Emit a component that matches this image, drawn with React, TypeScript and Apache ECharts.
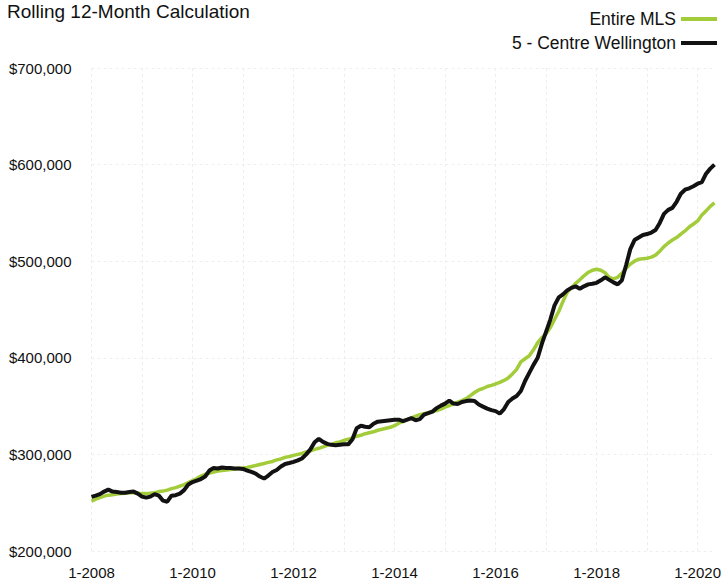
import React, { useEffect, useRef } from "react";
import * as echarts from "echarts";

// Monthly categories from 1-2008 to 5-2020
const startYear = 2008;
const monthCount = 149;
const categories: string[] = [];
for (let i = 0; i < monthCount; i++) {
  const y = startYear + Math.floor(i / 12);
  const m = (i % 12) + 1;
  categories.push(`${m}-${y}`);
}

// Values in thousands of dollars
const entireMLS = [
  251.6, 253.6, 255.2, 256.8, 257.8, 258.3, 258.9, 259.4, 259.9, 260.4,
  260.4, 259.9, 259.4, 259.4, 259.9, 260.4, 261.5, 262, 263, 264.6,
  265.6, 267.2, 268.8, 270.8, 272.9, 275, 277.6, 279.2, 280.7, 281.8,
  282.8, 283.3, 283.9, 284.4, 284.9, 285.4, 285.9, 286.5, 287.5, 288.5,
  289.6, 290.6, 291.7, 292.7, 294.3, 295.3, 296.9, 297.9, 299, 300,
  301, 302.6, 303.6, 305.2, 306.3, 307.8, 309.4, 310.4, 312, 313,
  314.6, 315.6, 317.2, 318.8, 319.8, 321.4, 322.4, 323.4, 325, 326,
  327.1, 328.1, 329.7, 332.3, 333.9, 335.9, 337.5, 339.6, 341.1, 342.2,
  343.2, 344.3, 345.3, 346.9, 349, 350.5, 352.6, 354.2, 355.7, 357.8,
  360.9, 364.1, 366.7, 368.2, 370.3, 371.4, 372.9, 374.5, 376.6, 379.2,
  383.3, 388, 395.8, 399, 402.1, 408.3, 415.6, 420.8, 425, 431.3,
  439.6, 447.9, 458.3, 467.7, 472.4, 477.1, 480.7, 484.9, 488.5, 490.6,
  491.7, 490.6, 488, 483.3, 481.8, 483.3, 487.5, 492.7, 496.9, 500,
  502.1, 502.6, 503.1, 504.2, 506.3, 510.4, 515.1, 518.8, 521.9, 524.5,
  528.1, 531.3, 535.4, 538.5, 541.7, 547.9, 552.1, 556.8, 560.4,
];

const centreWellington = [
  256, 257.3, 258.9, 261.5, 263.5, 261.5, 261, 260.4, 260.4, 261,
  261.5, 259.4, 256.3, 255.2, 256.3, 258.9, 257.3, 252.1, 251, 257.3,
  257.8, 259.4, 263, 268.8, 271.4, 272.9, 274.5, 277.1, 283.3, 285.9,
  285.4, 286.5, 285.9, 285.9, 285.4, 285.4, 284.9, 283.3, 281.8, 280.2,
  277.1, 275, 278.1, 281.8, 283.9, 287.5, 290.1, 291.1, 292.2, 293.8,
  295.8, 300, 305.2, 312.5, 316.1, 313, 310.9, 309.9, 309.4, 309.9,
  310.4, 310.4, 315.6, 327.1, 329.7, 328.6, 328.1, 331.8, 333.9, 334.4,
  334.9, 335.4, 335.9, 335.9, 334.4, 335.9, 337.5, 335.4, 336.5, 341.1,
  342.7, 344.3, 347.9, 350.5, 352.6, 355.7, 352.6, 352.1, 354.2, 355.2,
  355.7, 355.2, 351.6, 349.5, 347.4, 345.8, 344.8, 342.2, 346.9, 354.2,
  357.8, 360.4, 365.6, 376, 384.4, 392.7, 400, 414.6, 427.1, 439.6,
  454.2, 462.5, 465.6, 469.8, 472.4, 474, 471.4, 474, 476, 476.6,
  477.6, 480.2, 483.3, 480.7, 478.1, 476, 480.2, 495.8, 512.5, 521.9,
  524.5, 527.1, 528.1, 529.7, 532.3, 539.6, 549, 553.1, 555.2, 561.5,
  569.8, 574, 575.5, 577.6, 580.2, 581.8, 590.6, 595.8, 600,
];

const seriesNames = ["Entire MLS", "5 - Centre Wellington"];
const titleText = "Rolling 12-Month Calculation";

const FONT = "'Liberation Sans', Arial, Helvetica, sans-serif";

export default function App() {
  const ref = useRef<HTMLDivElement>(null);

  useEffect(() => {
    if (!ref.current) return;
    const chart = echarts.init(ref.current, undefined, { renderer: "svg" });
    chart.setOption({
      animation: false,
      backgroundColor: "#ffffff",
      title: {
        text: titleText,
        left: 7,
        top: 2,
        padding: 0,
        textStyle: {
          fontFamily: FONT,
          fontSize: 19,
          fontWeight: "normal",
          color: "#111111",
        },
      },
      legend: {
        data: seriesNames,
        orient: "vertical",
        right: 7,
        top: 10,
        align: "right",
        icon: "rect",
        itemWidth: 36,
        itemHeight: 4,
        itemGap: 6,
        padding: 0,
        textStyle: {
          fontFamily: FONT,
          fontSize: 17.5,
          lineHeight: 18,
          color: "#111111",
        },
      },
      grid: {
        left: 91.5,
        right: 7.5,
        top: 68,
        bottom: 36,
        containLabel: false,
      },
      xAxis: {
        type: "category",
        data: categories,
        boundaryGap: false,
        axisLine: { show: false },
        axisTick: { show: false },
        axisLabel: {
          interval: 23,
          margin: 14,
          fontFamily: FONT,
          fontSize: 15,
          color: "#111111",
        },
        splitLine: {
          show: true,
          interval: 11,
          lineStyle: { color: "#eeeeee", type: [3, 3], width: 1 },
        },
      },
      yAxis: {
        type: "value",
        min: 200,
        max: 700,
        interval: 100,
        axisLine: { show: false },
        axisTick: { show: false },
        axisLabel: {
          margin: 20,
          fontFamily: FONT,
          fontSize: 15,
          color: "#111111",
          formatter: (v: number) => `$${v},000`,
        },
        splitLine: {
          show: true,
          lineStyle: { color: "#eeeeee", type: [3, 3], width: 1 },
        },
      },
      series: [
        {
          name: seriesNames[0],
          type: "line",
          data: entireMLS,
          symbol: "none",
          color: "#a3cc3a",
          lineStyle: { width: 3.5, color: "#a3cc3a" },
          z: 2,
        },
        {
          name: seriesNames[1],
          type: "line",
          data: centreWellington,
          symbol: "none",
          color: "#121212",
          lineStyle: { width: 4, color: "#121212" },
          z: 3,
        },
      ],
    });
    return () => chart.dispose();
  }, []);

  return (
    <div
      ref={ref}
      style={{ width: 724, height: 587, position: "absolute", left: 0, top: 0 }}
    />
  );
}
